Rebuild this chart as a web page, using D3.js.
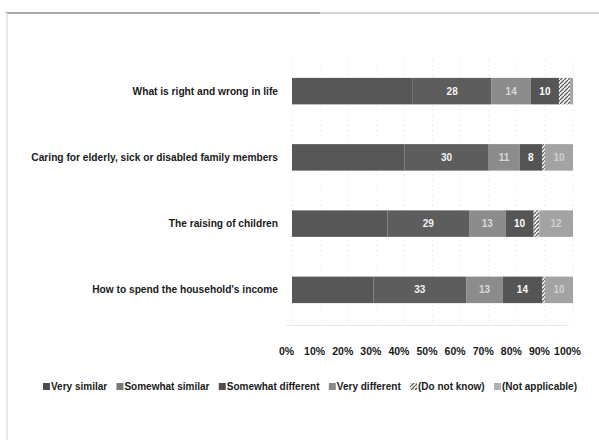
<!DOCTYPE html>
<html>
<head>
<meta charset="utf-8">
<script src="https://cdn.jsdelivr.net/npm/d3@7"></script>
<style>
body { margin: 0; background: #fff; }
text { font-family: "Liberation Sans", Arial, sans-serif; font-weight: bold; }
</style>
</head>
<body>
<script>
var w = 599;
var h = 443;

var categories = [
  "What is right and wrong in life",
  "Caring for elderly, sick or disabled family members",
  "The raising of children",
  "How to spend the household's income"
];
var seriesNames = ["Very similar", "Somewhat similar", "Somewhat different", "Very different", "(Do not know)", "(Not applicable)"];
var verySimilar = [43, 40, 34, 29];
var somewhatSimilar = [28, 30, 29, 33];
var somewhatDifferent = [14, 11, 13, 13];
var veryDifferent = [10, 8, 10, 14];
var doNotKnow = [4, 1, 2, 1];
var notApplicable = [1, 10, 12, 10];
var tickValues = [0, 10, 20, 30, 40, 50, 60, 70, 80, 90, 100];

var series = [verySimilar, somewhatSimilar, somewhatDifferent, veryDifferent, doNotKnow, notApplicable];
var fills = ["#575757", "#5d5d5d", "#8c8c8c", "#555555", "url(#hatch)", "#a3a3a3"];
var legendFills = ["#4e4e4e", "#7a7a7a", "#4e4e4e", "#8a8a8a", "url(#hatch)", "#b0b0b0"];
var labelColors = [null, "#f2f2f2", "#d8d8d8", "#ffffff", null, "#d0d0d0"];

var svg = d3.select("body").append("svg")
  .attr("width", w)
  .attr("height", h);

var defs = svg.append("defs");
var pat = defs.append("pattern")
  .attr("id", "hatch")
  .attr("patternUnits", "userSpaceOnUse")
  .attr("width", 4)
  .attr("height", 4);
pat.append("rect").attr("width", 4).attr("height", 4).attr("fill", "#e8e8e8");
pat.append("path").attr("d", "M0,4 L4,0").attr("stroke", "#555").attr("stroke-width", 1.2);

// scanned page frame
svg.append("line").attr("x1", 6).attr("x2", 320).attr("y1", 13).attr("y2", 13)
  .attr("stroke", "#555").attr("stroke-width", 1.2);
svg.append("line").attr("x1", 320).attr("x2", 599).attr("y1", 13).attr("y2", 13)
  .attr("stroke", "#c8c8c8").attr("stroke-width", 1.5);
svg.append("line").attr("x1", 7).attr("x2", 7).attr("y1", 13).attr("y2", 440)
  .attr("stroke", "#e2e2e2").attr("stroke-width", 1.5);

var x = d3.scaleLinear().domain([0, 100]).range([292, 573]);
var y = d3.scaleBand().domain(categories).range([58, 323]).paddingInner(0.6).paddingOuter(0.3);

// gridlines
svg.append("g")
  .selectAll("line")
  .data(tickValues)
  .enter()
  .append("line")
  .attr("x1", function(d) { return x(d); })
  .attr("x2", function(d) { return x(d); })
  .attr("y1", 60)
  .attr("y2", 325)
  .attr("stroke", "#e0e0e0")
  .attr("stroke-dasharray", "1,4");

var stacked = categories.map(function(c, i) {
  var x0 = 0;
  return series.map(function(s, k) {
    var seg = { cat: c, k: k, v: s[i], x0: x0 };
    x0 += s[i];
    return seg;
  });
});

var rows = svg.append("g")
  .selectAll("g")
  .data(stacked)
  .enter()
  .append("g");

rows.selectAll("rect")
  .data(function(d) { return d; })
  .enter()
  .append("rect")
  .attr("x", function(d) { return x(d.x0); })
  .attr("y", function(d) { return y(d.cat); })
  .attr("width", function(d) { return x(d.x0 + d.v) - x(d.x0); })
  .attr("height", y.bandwidth())
  .attr("fill", function(d) { return fills[d.k]; });

rows.selectAll("text")
  .data(function(d) { return d.filter(function(s) { return labelColors[s.k] && s.v >= 5; }); })
  .enter()
  .append("text")
  .attr("x", function(d) { return x(d.x0 + d.v / 2); })
  .attr("y", function(d) { return y(d.cat) + y.bandwidth() / 2 + 3.5; })
  .attr("text-anchor", "middle")
  .attr("font-size", "10px")
  .attr("fill", function(d) { return labelColors[d.k]; })
  .text(function(d) { return d.v; });

// category labels
svg.append("g")
  .selectAll("text")
  .data(categories)
  .enter()
  .append("text")
  .attr("x", 278)
  .attr("y", function(d) { return y(d) + y.bandwidth() / 2 + 3.5; })
  .attr("text-anchor", "end")
  .attr("font-size", "10.2px")
  .attr("fill", "#1a1a1a")
  .text(function(d) { return d; });

// x axis
var axis = svg.append("g")
  .attr("transform", "translate(-6,325)")
  .call(d3.axisBottom(x).tickValues(tickValues).tickSize(0).tickPadding(23)
    .tickFormat(function(d) { return d + "%"; }));
axis.select(".domain").attr("stroke", "#e6e6e6");
axis.selectAll("text")
  .attr("font-size", "10.5px")
  .attr("font-family", "Liberation Sans, Arial, sans-serif")
  .attr("fill", "#1a1a1a");

// legend, spread across 43..577
var legend = svg.append("g").attr("transform", "translate(43,390)");
var items = seriesNames.map(function(name, k) {
  legend.append("rect")
    .attr("y", -7)
    .attr("width", 7)
    .attr("height", 7)
    .attr("fill", legendFills[k]);
  var t = legend.append("text")
    .attr("y", 0)
    .attr("font-size", "10px")
    .attr("fill", "#1a1a1a")
    .text(name);
  return { t: t, wd: 8 + t.node().getComputedTextLength() };
});
var total = d3.sum(items, function(d) { return d.wd; });
var gap = (534 - total) / (items.length - 1);
var lx = 0;
legend.selectAll("rect").each(function(d, k) {
  d3.select(this).attr("x", lx);
  items[k].t.attr("x", lx + 8);
  lx += items[k].wd + gap;
});
</script>
</body>
</html>
